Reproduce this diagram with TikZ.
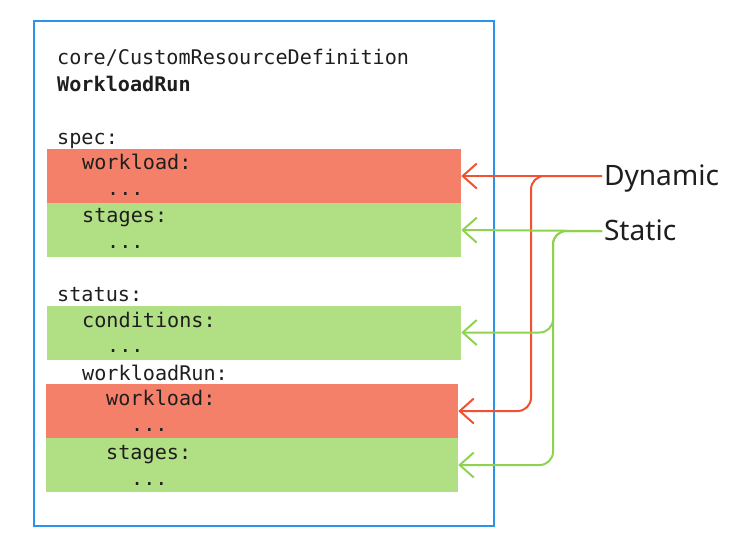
\documentclass[tikz,border=0pt]{standalone}
\usepackage{fontspec}
\setmonofont{DejaVu Sans Mono}
\setsansfont{Noto Sans}
\usetikzlibrary{arrows.meta}

\definecolor{frameblue}{RGB}{42,148,236}
\definecolor{dynfill}{RGB}{245,128,105}
\definecolor{statfill}{RGB}{177,223,131}
\definecolor{dynred}{RGB}{242,80,46}
\definecolor{statgreen}{RGB}{142,210,80}
\definecolor{inktext}{RGB}{30,30,30}

\begin{document}
\begin{tikzpicture}[x=0.03cm, y=-0.03cm,
  codeline/.style={anchor=base west, inner sep=0pt, text=inktext,
    font=\ttfamily\fontsize{17.2}{20}\selectfont},
  field/.style={minimum width=12.42cm, minimum height=1.62cm, inner sep=0pt},
  tagtext/.style={anchor=west, inner xsep=1.5pt, inner ysep=0pt, text height=17pt,
    text depth=0pt, text=inktext, font=\sffamily\fontsize{24}{28}\selectfont},
  dynarrow/.style={draw=dynred, line width=1.7pt, rounded corners=0.4cm,
    -{Straight Barb[length=0.42cm,width=0.75cm]}},
  statarrow/.style={draw=statgreen, line width=1.7pt, rounded corners=0.4cm,
    -{Straight Barb[length=0.42cm,width=0.75cm]}}]
\useasboundingbox (0,0) rectangle (741,553);

%Boxes
\node[field, fill=dynfill] (specwl) at (254,176) {};
\node[field, fill=statfill] (specst) at (254,230) {};
\node[field, fill=statfill] (statcond) at (254,332.5) {};
\node[field, fill=dynfill, minimum width=12.36cm] (runwl) at (252,411) {};
\node[field, fill=statfill, minimum width=12.36cm] (runst) at (252,465) {};

\node[draw=frameblue, line width=1.7pt, minimum width=13.8cm, minimum height=15.15cm,
  inner sep=0pt] (frame) at (264,273.5) {};

%Nodes
\node[codeline] (crd) at (57,64) {core/CustomResourceDefinition};
\node[codeline] (kind) at (57,91) {\bfseries WorkloadRun};

\node[codeline] (spec) at (57,144) {spec:};
\node[codeline] (specwlkey) at (82,169) {workload:};
\node[codeline] (specwlval) at (107,195) {...};
\node[codeline] (specstkey) at (82,222) {stages:};
\node[codeline] (specstval) at (107,248) {...};

\node[codeline] (status) at (57,301) {status:};
\node[codeline] (condkey) at (82,327) {conditions:};
\node[codeline] (condval) at (107,352) {...};
\node[codeline] (runkey) at (82,380) {workloadRun:};
\node[codeline] (runwlkey) at (106,405) {workload:};
\node[codeline] (runwlval) at (131,431) {...};
\node[codeline] (runstkey) at (106,459) {stages:};
\node[codeline] (runstval) at (131,485) {...};

\node[tagtext] (dynamic) at (602,176) {Dynamic};
\node[tagtext] (static) at (602,231) {Static};

\coordinate (dynbus) at (531,300);
\coordinate (statbus) at (553,300);

%Lines
\draw[dynarrow] (dynamic.west) -- (specwl.east);
\draw[dynarrow] (dynamic.west) -| (dynbus |- runwl.east) -- (runwl.east);

\draw[statarrow] (static.west) -- (specst.east);
\draw[statarrow] (static.west) -| (statbus |- statcond.east) -- (statcond.east);
\draw[statarrow] (static.west) -| (statbus |- runst.east) -- (runst.east);
\end{tikzpicture}
\end{document}
